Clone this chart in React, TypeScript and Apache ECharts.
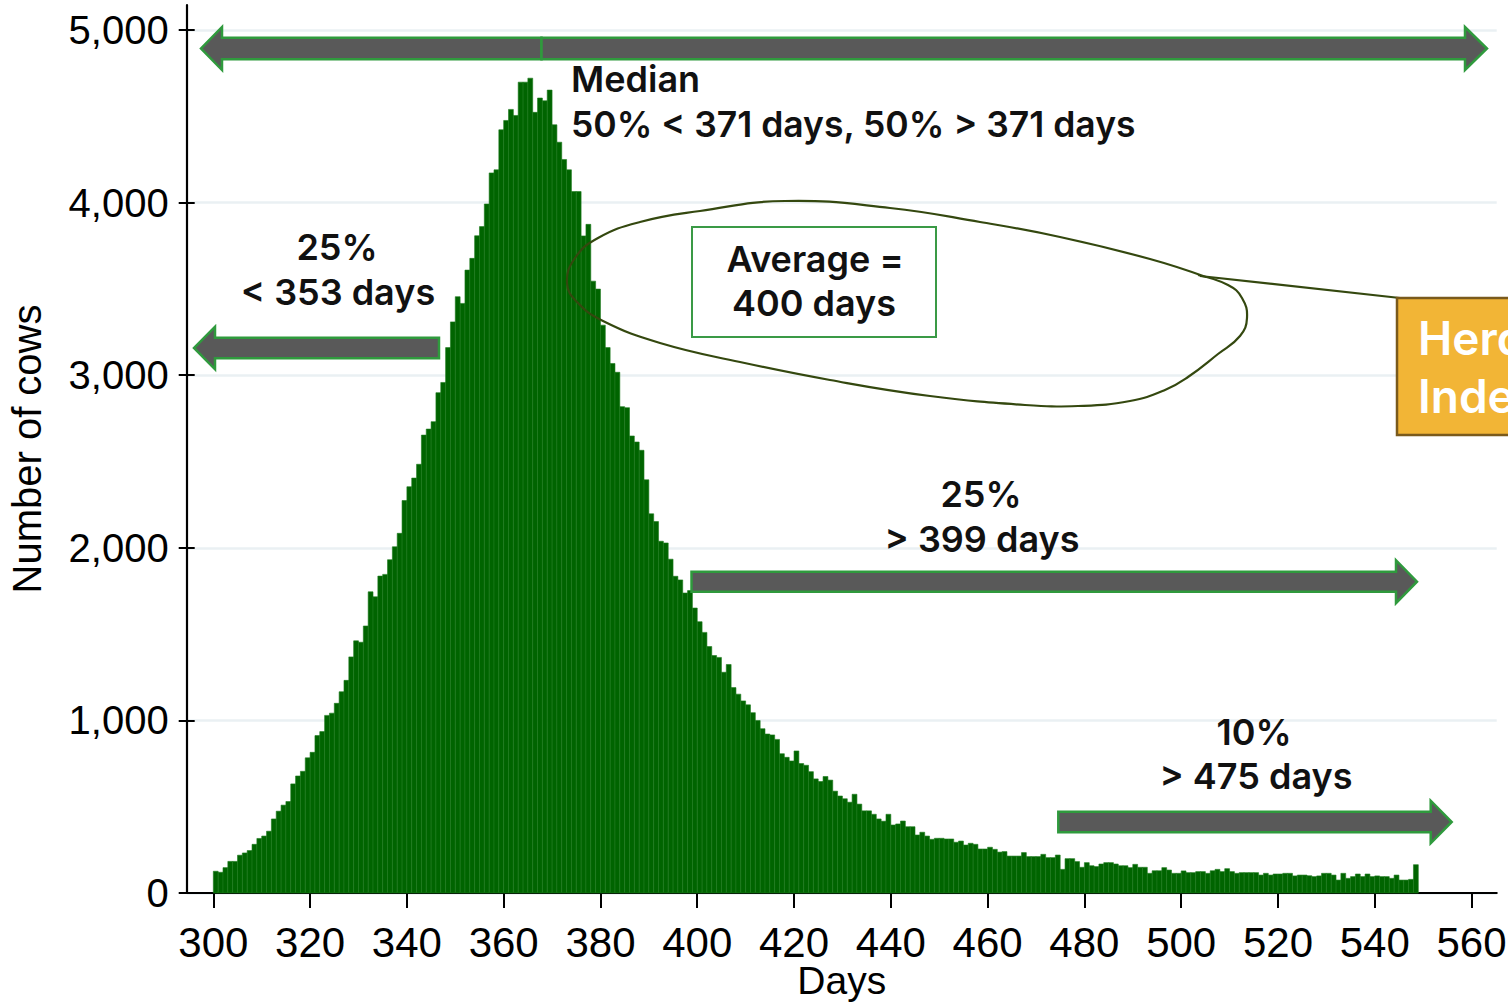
import React, { useEffect, useRef } from "react";
import * as echarts from "echarts";

// ---- data ----
const firstDay = 300;
const cowCounts = [
  126, 120, 147, 183, 183, 219, 232, 246, 282, 316,
  330, 358, 429, 474, 509, 530, 632, 678, 705, 783,
  815, 912, 935, 1029, 1042, 1099, 1166, 1232, 1368, 1461,
  1453, 1547, 1745, 1716, 1836, 1846, 1931, 2006, 2084, 2274,
  2354, 2404, 2484, 2653, 2688, 2731, 2899, 2958, 3160, 3309,
  3455, 3416, 3609, 3677, 3808, 3861, 3992, 4172, 4190, 4422,
  4476, 4540, 4505, 4698, 4698, 4721, 4523, 4606, 4590, 4652,
  4451, 4350, 4250, 4190, 4064, 4064, 3807, 3874, 3545, 3499,
  3290, 3160, 3068, 3017, 2818, 2812, 2648, 2613, 2565, 2394,
  2197, 2152, 2038, 2028, 1934, 1835, 1814, 1738, 1752, 1651,
  1572, 1510, 1428, 1376, 1365, 1279, 1324, 1190, 1152, 1113,
  1090, 1045, 999, 952, 921, 916, 890, 807, 786, 765,
  823, 750, 740, 703, 661, 646, 675, 654, 590, 562,
  546, 526, 572, 515, 476, 476, 456, 429, 416, 456,
  394, 400, 417, 384, 384, 336, 352, 330, 311, 317,
  317, 313, 313, 294, 301, 278, 288, 282, 255, 255,
  265, 253, 237, 240, 214, 214, 214, 234, 211, 211,
  211, 224, 205, 205, 220, 137, 199, 199, 182, 149,
  176, 158, 153, 168, 176, 176, 168, 158, 158, 147,
  166, 149, 149, 114, 129, 129, 147, 133, 114, 114,
  128, 118, 118, 124, 124, 114, 129, 137, 124, 141,
  124, 114, 118, 118, 118, 118, 104, 114, 104, 110,
  110, 114, 114, 99, 104, 104, 100, 95, 99, 114,
  114, 104, 75, 114, 85, 95, 110, 95, 110, 95,
  99, 95, 95, 85, 104, 75, 75, 79, 164,
];
const xTickValues = [300, 320, 340, 360, 380, 400, 420, 440, 460, 480, 500, 520, 540, 560];
const yTickValues = [0, 1000, 2000, 3000, 4000, 5000];

const medianLines = ["Median", "50% < 371 days, 50% > 371 days"];
const lowerQuartileLines = ["25%", "< 353 days"];
const averageLines = ["Average =", "400 days"];
const upperQuartileLines = ["25%", "> 399 days"];
const topDecileLines = ["10%", "> 475 days"];
const boxLines = ["Herd", "Index"];

// ---- styling helpers ----
const AXIS_FONT = '"Liberation Sans", Arial, sans-serif';
const ANN_FONT = 'Inter, "Noto Sans", sans-serif';
const ARROW_FILL = "#595959";
const ARROW_STROKE = "#2f9a3d";

function arrow(tail: number, tip: number, yc: number, shaft = 21, head = 43, headLen = 21) {
  const dir = tip > tail ? 1 : -1;
  const base = tip - dir * headLen;
  const pts = [
    [tail, yc - shaft / 2],
    [base, yc - shaft / 2],
    [base, yc - head / 2],
    [tip, yc],
    [base, yc + head / 2],
    [base, yc + shaft / 2],
    [tail, yc + shaft / 2],
  ];
  return {
    type: "polygon",
    z: 100,
    shape: { points: pts },
    style: { fill: ARROW_FILL, stroke: ARROW_STROKE, lineWidth: 2.5 },
  };
}

function label(x: number, y: number, text: string, align = "center", size = 36, color = "#111") {
  return {
    type: "text",
    z: 101,
    x,
    y,
    style: {
      text,
      fill: color,
      fontFamily: ANN_FONT,
      fontWeight: 600,
      fontSize: size,
      align,
      verticalAlign: "middle",
    },
  };
}

const ellipsePts = [
  [1206, 277], [1150, 259], [1060, 237], [980, 222], [890, 208], [785, 201],
  [700, 211], [640, 222], [598, 238], [575, 258], [567, 283], [577, 302],
  [603, 321], [660, 343], [740, 362], [830, 380], [930, 396], [1025, 405],
  [1078, 406], [1130, 401], [1165, 390], [1188, 377], [1218, 354], [1240, 336],
  [1247, 318], [1242, 298], [1228, 285], [1198, 275],
];

export default function App() {
  const ref = useRef<HTMLDivElement>(null);

  useEffect(() => {
    if (!ref.current) return;
    const chart = echarts.init(ref.current, null, { renderer: "svg" });
    const data = cowCounts.map((v, i) => [firstDay + i, v]);

    const option = {
      animation: false,
      backgroundColor: "#ffffff",
      grid: {
        left: 186.7,
        right: 11.3,
        top: 5,
        height: 888,
        containLabel: false,
        outerBoundsMode: "none",
      },
      xAxis: {
        type: "value",
        min: 294.5,
        max: 565.2,
        name: "Days",
        nameLocation: "middle",
        nameGap: 68,
        nameMoveOverlap: false,
        nameTextStyle: { fontFamily: AXIS_FONT, fontSize: 39, color: "#000" },
        axisLine: { show: true, lineStyle: { color: "#000", width: 2.2 } },
        axisTick: { show: true, length: 15, customValues: xTickValues, lineStyle: { color: "#000", width: 2 } },
        axisLabel: {
          customValues: xTickValues,
          fontFamily: AXIS_FONT,
          fontSize: 42,
          color: "#000",
          margin: 28,
        },
        splitLine: { show: false },
      },
      yAxis: [
        {
          type: "value",
          min: 0,
          max: 5145,
          name: "Number of cows",
          nameLocation: "middle",
          nameGap: 140,
          nameMoveOverlap: false,
          nameTextStyle: { fontFamily: AXIS_FONT, fontSize: 40, color: "#000" },
          axisLine: { show: true, lineStyle: { color: "#000", width: 2.2 } },
          axisTick: { show: true, length: 8, customValues: yTickValues, lineStyle: { color: "#000", width: 2 } },
          axisLabel: {
            customValues: yTickValues,
            fontFamily: AXIS_FONT,
            fontSize: 40,
            color: "#000",
            margin: 18,
            formatter: (v: number) => v.toLocaleString("en-US"),
          },
          splitLine: { show: true, lineStyle: { color: "#eaf0f3", width: 2.5 } },
        },
        {
          type: "value",
          min: 0,
          max: 5145,
          position: "left",
          axisLine: { show: false },
          axisTick: { show: true, inside: true, length: 8, customValues: yTickValues, lineStyle: { color: "#000", width: 2 } },
          axisLabel: { show: false },
          splitLine: { show: false },
        },
      ],
      series: [
        {
          type: "custom",
          name: "Cows",
          xAxisIndex: 0,
          yAxisIndex: 0,
          data,
          encode: { x: 0, y: 1 },
          renderItem: (params: any, api: any) => {
            const d = api.value(0);
            const v = api.value(1);
            const p0 = api.coord([d, v]);
            const p1 = api.coord([d + 1, 0]);
            return {
              type: "rect",
              shape: { x: p0[0], y: p0[1], width: p1[0] - p0[0], height: p1[1] - p0[1] },
              style: { fill: "#006400", stroke: "#1d7a1d", lineWidth: 0.6 },
            };
          },
        },
      ],
      graphic: [
        // top double arrow (two arrows joined at the median)
        arrow(541.5, 201, 48.5, 21.6, 43, 21),
        arrow(541.5, 1487, 48.5, 21.6, 43, 22),
        // quartile / decile arrows
        arrow(439, 194, 348, 20.6, 42.6, 21),
        arrow(691.5, 1417, 581.7, 20, 43, 21),
        arrow(1058.3, 1451.7, 822, 20.6, 42.6, 21),
        // ellipse around average
        {
          type: "polyline",
          z: 99,
          shape: { points: ellipsePts, smooth: 0.45 },
          style: { stroke: "#34480f", lineWidth: 2.2, fill: null },
        },
        {
          type: "line",
          z: 99,
          shape: { x1: 1200, y1: 276, x2: 1400, y2: 298 },
          style: { stroke: "#34480f", lineWidth: 2.2 },
        },
        // average box
        {
          type: "rect",
          z: 100,
          shape: { x: 692, y: 227, width: 244, height: 110 },
          style: { fill: "#ffffff", stroke: "#3a9a46", lineWidth: 2 },
        },
        // orange box (cut by the page edge, as in the reference)
        {
          type: "rect",
          z: 100,
          shape: { x: 1397, y: 298, width: 160, height: 137 },
          style: { fill: "#F2B536", stroke: "#7a5a1c", lineWidth: 2.5 },
        },
        label(1418, 338, boxLines[0], "left", 46, "#ffffff"),
        label(1418, 396, boxLines[1], "left", 46, "#ffffff"),
        // texts
        label(571, 79, medianLines[0], "left"),
        label(571, 124, medianLines[1], "left", 35.5),
        label(337, 247, lowerQuartileLines[0]),
        label(338, 292, lowerQuartileLines[1]),
        label(815, 259, averageLines[0]),
        label(814, 303, averageLines[1]),
        label(981, 494, upperQuartileLines[0]),
        label(982, 539, upperQuartileLines[1]),
        label(1254, 732, topDecileLines[0]),
        label(1256, 776, topDecileLines[1]),
      ],
    };

    chart.setOption(option as any);
    return () => chart.dispose();
  }, []);

  return (
    <div
      ref={ref}
      style={{ position: "absolute", left: 0, top: 0, width: 1508, height: 1006, overflow: "hidden" }}
    />
  );
}
